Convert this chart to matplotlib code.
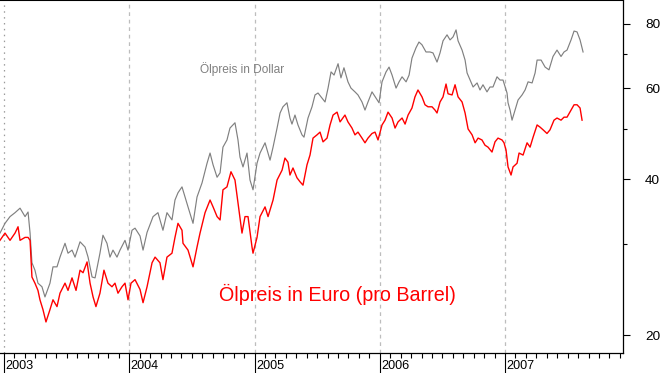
import numpy
import matplotlib
matplotlib.use('Agg')
import matplotlib.pyplot as plt
from matplotlib.ticker import FixedLocator, NullFormatter
import matplotlib.transforms as mtransforms

plt.rcParams['font.family'] = ['Liberation Sans', 'DejaVu Sans']

# Ölpreis in Dollar (Zeit als Dezimaljahr)
jahr_dollar = [2002.968, 2003.008, 2003.048, 2003.088, 2003.128, 2003.168, 2003.192, 2003.208, 2003.223, 2003.247,
               2003.271, 2003.303, 2003.327, 2003.367, 2003.391, 2003.423, 2003.447, 2003.487, 2003.511, 2003.543,
               2003.567, 2003.607, 2003.647, 2003.671, 2003.703, 2003.727, 2003.766, 2003.790, 2003.822, 2003.846,
               2003.870, 2003.902, 2003.926, 2003.966, 2003.990, 2004.022, 2004.046, 2004.086, 2004.110, 2004.142,
               2004.190, 2004.229, 2004.269, 2004.301, 2004.341, 2004.365, 2004.389, 2004.421, 2004.445, 2004.469,
               2004.509, 2004.541, 2004.581, 2004.621, 2004.645, 2004.669, 2004.701, 2004.725, 2004.748, 2004.780,
               2004.804, 2004.844, 2004.868, 2004.884, 2004.908, 2004.940, 2004.964, 2004.988, 2005.020, 2005.044,
               2005.084, 2005.124, 2005.148, 2005.180, 2005.204, 2005.227, 2005.259, 2005.283, 2005.299, 2005.323,
               2005.347, 2005.379, 2005.395, 2005.427, 2005.459, 2005.483, 2005.507, 2005.539, 2005.563, 2005.587,
               2005.611, 2005.635, 2005.667, 2005.690, 2005.714, 2005.746, 2005.770, 2005.802, 2005.826, 2005.858,
               2005.882, 2005.906, 2005.938, 2005.970, 2005.994, 2006.018, 2006.050, 2006.074, 2006.098, 2006.130,
               2006.154, 2006.178, 2006.210, 2006.234, 2006.257, 2006.289, 2006.313, 2006.337, 2006.369, 2006.401,
               2006.425, 2006.457, 2006.481, 2006.505, 2006.537, 2006.561, 2006.585, 2006.609, 2006.625, 2006.657,
               2006.681, 2006.697, 2006.721, 2006.745, 2006.777, 2006.800, 2006.824, 2006.856, 2006.880, 2006.904,
               2006.936, 2006.960, 2006.984, 2007.016, 2007.024, 2007.040, 2007.056, 2007.080, 2007.104, 2007.136,
               2007.160, 2007.184, 2007.216, 2007.240, 2007.256, 2007.288, 2007.320, 2007.351, 2007.383, 2007.415,
               2007.447, 2007.471, 2007.495, 2007.527, 2007.551, 2007.575, 2007.599, 2007.623]
preis_dollar = [31.5, 32.9, 33.9, 34.5, 35.2, 33.9, 34.6, 31.5, 27.6, 26.7,
                25.2, 24.8, 23.7, 25.2, 27.1, 27.1, 28.3, 30.1, 28.8, 29.2,
                28.3, 30.3, 29.6, 28.3, 25.9, 25.8, 28.8, 31.2, 30.1, 28.3,
                29.2, 28.3, 29.2, 30.5, 29.2, 31.9, 32.2, 31.1, 29.2, 31.6,
                33.9, 34.5, 31.9, 34.5, 33.4, 36.5, 37.7, 38.7, 37.0, 35.4,
                32.9, 37.0, 39.4, 43.0, 45.0, 42.7, 40.4, 41.2, 46.2, 47.7,
                50.3, 51.5, 47.7, 44.2, 42.3, 45.0, 39.9, 38.2, 43.0, 45.0,
                47.1, 43.6, 46.2, 50.3, 53.8, 55.3, 56.3, 52.6, 51.2, 53.3,
                51.0, 48.8, 48.3, 52.6, 55.3, 58.3, 58.8, 57.5, 56.5, 60.1,
                64.6, 63.7, 67.0, 62.9, 65.8, 61.8, 60.1, 59.1, 58.3, 56.5,
                54.5, 56.5, 59.1, 57.5, 56.3, 61.8, 64.6, 66.0, 63.7, 60.1,
                61.8, 63.2, 61.8, 63.7, 68.7, 71.9, 73.8, 72.9, 70.6, 70.6,
                70.3, 67.5, 70.3, 74.2, 76.2, 74.5, 75.5, 77.9, 74.2, 71.2,
                68.1, 64.3, 62.3, 60.4, 61.5, 59.6, 61.0, 59.1, 60.4, 60.4,
                63.2, 62.3, 62.3, 58.8, 56.3, 54.5, 52.1, 54.5, 57.0, 58.3,
                59.6, 61.8, 61.5, 64.3, 68.1, 68.1, 66.0, 65.2, 69.2, 71.2,
                69.2, 70.6, 71.2, 74.5, 77.5, 77.2, 74.5, 70.6]

# Ölpreis in Euro
jahr_euro = [2002.968, 2003.008, 2003.048, 2003.088, 2003.112, 2003.128, 2003.168, 2003.192, 2003.208, 2003.223,
             2003.247, 2003.271, 2003.287, 2003.311, 2003.335, 2003.367, 2003.391, 2003.423, 2003.447, 2003.487,
             2003.511, 2003.543, 2003.575, 2003.607, 2003.631, 2003.663, 2003.687, 2003.711, 2003.734, 2003.766,
             2003.798, 2003.830, 2003.862, 2003.886, 2003.910, 2003.942, 2003.966, 2003.990, 2004.014, 2004.046,
             2004.086, 2004.110, 2004.142, 2004.182, 2004.206, 2004.245, 2004.269, 2004.301, 2004.341, 2004.365,
             2004.389, 2004.421, 2004.429, 2004.469, 2004.509, 2004.541, 2004.565, 2004.605, 2004.645, 2004.669,
             2004.701, 2004.725, 2004.748, 2004.780, 2004.812, 2004.844, 2004.868, 2004.900, 2004.924, 2004.948,
             2004.980, 2004.988, 2005.020, 2005.044, 2005.084, 2005.108, 2005.148, 2005.180, 2005.220, 2005.243,
             2005.267, 2005.283, 2005.307, 2005.339, 2005.363, 2005.387, 2005.419, 2005.443, 2005.467, 2005.499,
             2005.523, 2005.547, 2005.579, 2005.603, 2005.627, 2005.659, 2005.683, 2005.722, 2005.746, 2005.778,
             2005.802, 2005.826, 2005.858, 2005.882, 2005.906, 2005.938, 2005.962, 2005.986, 2006.018, 2006.042,
             2006.066, 2006.098, 2006.122, 2006.146, 2006.178, 2006.202, 2006.226, 2006.257, 2006.281, 2006.305,
             2006.337, 2006.361, 2006.385, 2006.417, 2006.441, 2006.457, 2006.481, 2006.505, 2006.529, 2006.545,
             2006.577, 2006.601, 2006.625, 2006.657, 2006.681, 2006.705, 2006.737, 2006.761, 2006.785, 2006.816,
             2006.840, 2006.864, 2006.896, 2006.920, 2006.944, 2006.976, 2006.992, 2007.008, 2007.024, 2007.048,
             2007.064, 2007.096, 2007.112, 2007.144, 2007.176, 2007.200, 2007.224, 2007.256, 2007.280, 2007.304,
             2007.335, 2007.359, 2007.391, 2007.415, 2007.447, 2007.471, 2007.495, 2007.527, 2007.551, 2007.575,
             2007.599, 2007.615]
preis_euro = [30.5, 31.5, 30.5, 31.5, 32.4, 30.5, 30.9, 30.9, 30.5, 25.9,
              25.2, 24.4, 23.4, 22.4, 21.2, 22.4, 23.4, 22.7, 24.1, 25.2,
              24.4, 25.8, 24.4, 26.7, 26.4, 27.7, 25.2, 23.7, 22.7, 24.1,
              26.7, 25.2, 24.8, 25.2, 24.1, 24.8, 25.2, 23.4, 25.2, 25.6,
              24.5, 23.1, 24.8, 27.6, 28.3, 27.6, 25.6, 28.3, 28.8, 30.9,
              32.9, 31.9, 30.1, 29.2, 27.1, 29.6, 31.5, 34.5, 36.5, 35.4,
              33.9, 33.4, 38.2, 38.7, 41.4, 39.9, 36.0, 31.5, 33.9, 33.9,
              29.6, 28.8, 30.9, 33.9, 35.4, 33.9, 36.5, 39.9, 41.7, 44.0,
              43.2, 40.8, 42.1, 40.3, 39.6, 39.0, 42.7, 44.6, 48.1, 48.8,
              49.4, 47.3, 48.1, 51.0, 53.3, 54.0, 51.7, 53.3, 51.7, 50.3,
              48.8, 49.4, 48.1, 47.1, 48.1, 49.1, 49.4, 47.7, 51.0, 52.1,
              54.0, 52.6, 50.3, 51.7, 52.6, 51.2, 53.3, 55.0, 57.8, 59.6,
              57.8, 55.8, 55.3, 55.3, 54.5, 53.8, 56.5, 57.8, 61.2, 58.6,
              58.3, 61.0, 57.8, 56.5, 53.8, 50.1, 48.8, 47.1, 48.1, 47.7,
              46.6, 46.2, 45.2, 47.3, 48.1, 47.7, 47.1, 45.6, 42.3, 40.8,
              42.3, 43.0, 45.0, 44.6, 47.1, 46.2, 48.3, 51.0, 50.5, 49.9,
              49.1, 49.9, 52.1, 52.6, 52.1, 52.8, 52.8, 54.5, 55.8, 55.8,
              55.0, 52.1]

jahre = [2003, 2004, 2005, 2006, 2007]
y_ticks = [20, 40, 60, 80]
y_minor = [30, 50, 70]

fig = plt.figure(figsize=(6.63, 3.73), dpi=100)
ax = fig.add_axes([0.0, 0.0536, 0.9397, 0.9464])

# senkrechte Jahreslinien (die erste etwas dunkler und feiner gepunktet)
for j in jahre:
    if j == jahre[0]:
        ax.axvline(j, color='#9a9a9a', linewidth=0.9, linestyle=(0, (1.2, 3.5)), zorder=0)
    else:
        ax.axvline(j, color='#bdbdbd', linewidth=0.9, linestyle=(0, (3, 3)), zorder=0)

ax.plot(jahr_dollar, preis_dollar, color='#808080', linewidth=0.85)
ax.plot(jahr_euro, preis_euro, color='#ff0000', linewidth=1.0)

ax.set_yscale('log')
ax.set_xlim(2002.968, 2007.942)
ax.set_ylim(18.46, 89)

# y-Achse rechts
ax.yaxis.tick_right()
ax.yaxis.set_major_locator(FixedLocator(y_ticks))
ax.yaxis.set_minor_locator(FixedLocator(y_minor))
ax.yaxis.set_minor_formatter(NullFormatter())
ax.set_yticklabels([str(v) for v in y_ticks])
ax.tick_params(axis='y', which='major', length=4.8, width=0.8, pad=11, labelsize=9.7)
ax.tick_params(axis='y', which='minor', length=3, width=0.8)

# x-Achse: Jahre und Monate
monate = numpy.arange(2003, 2008, 1 / 12.0)
ax.xaxis.set_major_locator(FixedLocator(jahre))
ax.xaxis.set_minor_locator(FixedLocator(monate))
ax.tick_params(axis='x', which='major', length=14.4, width=0.8, labelbottom=False)
ax.tick_params(axis='x', which='minor', length=3.6, width=0.8)

trans = mtransforms.blended_transform_factory(ax.transData, ax.transAxes)
for j in jahre:
    ax.annotate(str(j), xy=(j, 0), xycoords=trans, xytext=(1.0, -9.4),
                textcoords='offset points', ha='left', va='center', fontsize=9.1)

ax.spines['left'].set_visible(False)
for s in ['top', 'right', 'bottom']:
    ax.spines[s].set_linewidth(0.9)
ax.spines['top'].set_linewidth(1.5)

ax.text(2004.565, 65.4, 'Ölpreis in Dollar', color='#808080', fontsize=8.6, ha='left', va='center')
ax.text(2004.717, 24.0, 'Ölpreis in Euro (pro Barrel)', color='#ff0000', fontsize=14.2, ha='left', va='center')

fig.savefig('out.png', dpi=100)
